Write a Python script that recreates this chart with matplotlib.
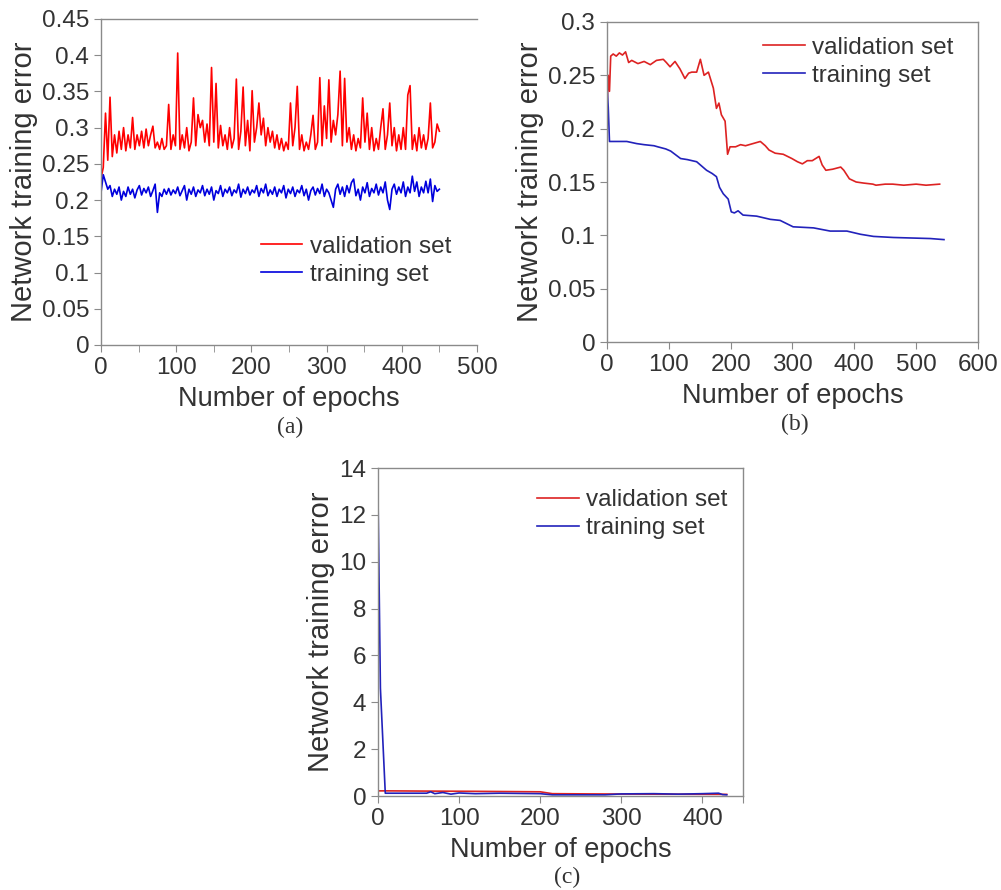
import numpy as np
import matplotlib
matplotlib.use('Agg')
import matplotlib.pyplot as plt
from matplotlib.ticker import MultipleLocator, FormatStrFormatter

plt.rcParams['font.family'] = ['Liberation Sans', 'DejaVu Sans']

# (a) 每3个epoch读一个值
ep_a = np.arange(0, 451, 3)
val_a = [0.23, 0.245, 0.32, 0.255, 0.342, 0.26, 0.29, 0.265, 0.295, 0.27,
         0.30, 0.268, 0.29, 0.272, 0.314, 0.27, 0.29, 0.275, 0.295, 0.272,
         0.298, 0.275, 0.29, 0.302, 0.272, 0.28, 0.27, 0.285, 0.27, 0.275,
         0.332, 0.27, 0.29, 0.275, 0.403, 0.27, 0.29, 0.272, 0.30, 0.268,
         0.28, 0.341, 0.275, 0.318, 0.30, 0.31, 0.28, 0.305, 0.275, 0.383,
         0.28, 0.361, 0.272, 0.303, 0.275, 0.29, 0.27, 0.30, 0.272, 0.285,
         0.367, 0.27, 0.295, 0.356, 0.275, 0.31, 0.268, 0.351, 0.28, 0.30,
         0.334, 0.29, 0.313, 0.275, 0.30, 0.28, 0.295, 0.272, 0.29, 0.27,
         0.285, 0.268, 0.28, 0.27, 0.334, 0.275, 0.30, 0.357, 0.27, 0.29,
         0.268, 0.28, 0.27, 0.29, 0.317, 0.27, 0.28, 0.369, 0.275, 0.33,
         0.285, 0.366, 0.28, 0.31, 0.29, 0.318, 0.378, 0.275, 0.368, 0.28,
         0.30, 0.27, 0.29, 0.268, 0.285, 0.272, 0.341, 0.28, 0.32, 0.27,
         0.30, 0.268, 0.285, 0.27, 0.30, 0.326, 0.27, 0.29, 0.334, 0.275,
         0.30, 0.268, 0.29, 0.27, 0.30, 0.27, 0.345, 0.358, 0.27, 0.29,
         0.268, 0.30, 0.272, 0.29, 0.27, 0.285, 0.334, 0.272, 0.28, 0.305,
         0.295]
tr_a = [0.21, 0.235, 0.225, 0.215, 0.22, 0.205, 0.215, 0.208, 0.218, 0.20,
        0.212, 0.205, 0.218, 0.208, 0.215, 0.203, 0.214, 0.22, 0.207, 0.216,
        0.21, 0.218, 0.205, 0.213, 0.222, 0.183, 0.21, 0.205, 0.215, 0.208,
        0.216, 0.207, 0.214, 0.209, 0.218, 0.206, 0.213, 0.22, 0.20, 0.215,
        0.208, 0.218, 0.205, 0.214, 0.21, 0.22, 0.206, 0.215, 0.208, 0.218,
        0.20, 0.213, 0.209, 0.22, 0.205, 0.215, 0.21, 0.218, 0.206, 0.214,
        0.21, 0.222, 0.204, 0.215, 0.209, 0.218, 0.207, 0.214, 0.21, 0.22,
        0.205, 0.216, 0.21, 0.222, 0.206, 0.214, 0.208, 0.218, 0.205, 0.215,
        0.21, 0.22, 0.203, 0.215, 0.209, 0.218, 0.205, 0.214, 0.21, 0.22,
        0.206, 0.215, 0.20, 0.213, 0.218, 0.207, 0.216, 0.209, 0.222, 0.205,
        0.215, 0.21, 0.20, 0.19, 0.215, 0.222, 0.208, 0.218, 0.205, 0.22,
        0.21, 0.224, 0.229, 0.206, 0.215, 0.20, 0.218, 0.21, 0.224, 0.205,
        0.216, 0.21, 0.222, 0.207, 0.218, 0.21, 0.225, 0.20, 0.187, 0.215,
        0.222, 0.208, 0.218, 0.21, 0.225, 0.205, 0.218, 0.21, 0.233, 0.212,
        0.225, 0.205, 0.218, 0.21, 0.226, 0.21, 0.229, 0.198, 0.22, 0.212,
        0.215]

# (b)
ep_b_val = [0, 2, 4, 6, 10, 15, 20, 25, 30, 35, 40, 50, 60, 70, 80, 91, 96,
            102, 110, 118, 126, 132, 137, 145, 151, 157, 164, 172, 177, 181,
            185, 191, 195, 199, 208, 216, 224, 236, 248, 256, 262, 272, 285,
            299, 308, 316, 324, 332, 343, 348, 354, 365, 378, 383, 392, 403,
            415, 430, 435, 450, 462, 480, 500, 516, 538]
val_b = [0.219, 0.25, 0.235, 0.268, 0.27, 0.268, 0.271, 0.269, 0.272, 0.262,
         0.264, 0.261, 0.263, 0.26, 0.264, 0.265, 0.262, 0.258, 0.263, 0.256,
         0.247, 0.252, 0.253, 0.253, 0.265, 0.25, 0.253, 0.238, 0.219, 0.224,
         0.213, 0.207, 0.176, 0.183, 0.183, 0.185, 0.184, 0.186, 0.188, 0.184,
         0.18, 0.177, 0.176, 0.172, 0.169, 0.167, 0.17, 0.17, 0.174, 0.166,
         0.161, 0.162, 0.164, 0.161, 0.153, 0.15, 0.149, 0.148, 0.147, 0.148,
         0.148, 0.147, 0.148, 0.147, 0.148]
ep_b_tr = [0, 2, 4, 20, 32, 48, 60, 76, 82, 95, 103, 119, 130, 145, 155, 161,
           170, 177, 182, 188, 196, 201, 206, 212, 220, 242, 264, 280, 301,
           334, 361, 388, 410, 431, 463, 523, 545]
tr_b = [0.24, 0.22, 0.188, 0.188, 0.188, 0.186, 0.185, 0.184, 0.183, 0.181,
        0.179, 0.172, 0.171, 0.169, 0.164, 0.161, 0.158, 0.155, 0.145, 0.139,
        0.134, 0.122, 0.121, 0.123, 0.119, 0.118, 0.115, 0.114, 0.108, 0.107,
        0.104, 0.104, 0.101, 0.099, 0.098, 0.097, 0.096]

# (c)
ep_c_val = [0, 10, 60, 120, 200, 215, 260, 330, 430]
val_c = [0.22, 0.22, 0.21, 0.2, 0.18, 0.1, 0.09, 0.08, 0.07]
ep_c_tr = [0, 3, 9, 60, 65, 70, 80, 90, 100, 120, 150, 200, 215, 280, 300,
           340, 370, 400, 420, 425, 430]
tr_c = [12.9, 4.6, 0.12, 0.12, 0.18, 0.1, 0.15, 0.08, 0.13, 0.1, 0.12, 0.1,
        0.05, 0.05, 0.09, 0.1, 0.08, 0.1, 0.12, 0.06, 0.05]

gray = '#8a8a8a'
txt = '#333333'


def style_axes(ax, right=True):
    for s in ['left', 'bottom', 'top', 'right']:
        ax.spines[s].set_color(gray)
        ax.spines[s].set_linewidth(1.0)
    ax.spines['right'].set_visible(right)
    ax.tick_params(which='both', direction='out', color=gray, length=5,
                   labelsize=17.5, labelcolor=txt, top=False, right=False)
    ax.set_xlabel('Number of epochs', fontsize=19.5, color=txt, labelpad=5)
    ax.set_ylabel('Network training error', fontsize=21, color=txt, labelpad=3)


def add_legend(ax, x, y):
    ax.legend(loc='upper left', bbox_to_anchor=(x, y), frameon=False,
              fontsize=17.5, handlelength=1.7, handletextpad=0.3,
              labelspacing=0.25, borderaxespad=0, labelcolor=txt)


fig = plt.figure(figsize=(10.01, 8.90), dpi=100)

# (a)
ax1 = fig.add_axes([0.1009, 0.6124, 0.3756, 0.3663])
ax1.plot(ep_a, val_a, color='#ff0000', lw=1.2, label='validation set')
ax1.plot(ep_a, tr_a, color='#0000dd', lw=1.2, label='training set')
ax1.set_xlim(0, 500)
ax1.set_ylim(0, 0.45)
ax1.xaxis.set_major_locator(MultipleLocator(100))
ax1.xaxis.set_minor_locator(MultipleLocator(50))
ax1.yaxis.set_major_locator(MultipleLocator(0.05))
ax1.yaxis.set_major_formatter(FormatStrFormatter('%g'))
style_axes(ax1, right=False)
add_legend(ax1, 0.4, 0.365)

# (b)
ax2 = fig.add_axes([0.6064, 0.6157, 0.3706, 0.3596])
ax2.plot(ep_b_val, val_b, color='#dd2222', lw=1.2, label='validation set')
ax2.plot(ep_b_tr, tr_b, color='#2222bb', lw=1.2, label='training set')
ax2.set_xlim(0, 600)
ax2.set_ylim(0, 0.3)
ax2.xaxis.set_major_locator(MultipleLocator(100))
ax2.yaxis.set_major_locator(MultipleLocator(0.05))
ax2.yaxis.set_major_formatter(FormatStrFormatter('%g'))
style_axes(ax2)
add_legend(ax2, 0.395, 0.985)

# (c)
ax3 = fig.add_axes([0.3776, 0.1056, 0.3646, 0.3685])
ax3.plot(ep_c_val, val_c, color='#dd2222', lw=1.2, label='validation set')
ax3.plot(ep_c_tr, tr_c, color='#2222bb', lw=1.2, label='training set')
ax3.set_xlim(0, 450)
ax3.set_ylim(0, 14)
ax3.set_xticks([0, 100, 200, 300, 400, 450])
ax3.set_xticklabels(['0', '100', '200', '300', '400', ''])
ax3.yaxis.set_major_locator(MultipleLocator(2))
style_axes(ax3)
add_legend(ax3, 0.41, 0.965)

for x, y, s in [(0.29, 0.52, '(a)'), (0.794, 0.523, '(b)'), (0.567, 0.0146, '(c)')]:
    fig.text(x, y, s, ha='center', va='center', fontsize=17,
             family=['Liberation Serif', 'DejaVu Serif'], color=txt)

plt.savefig('out.png', dpi=100)
